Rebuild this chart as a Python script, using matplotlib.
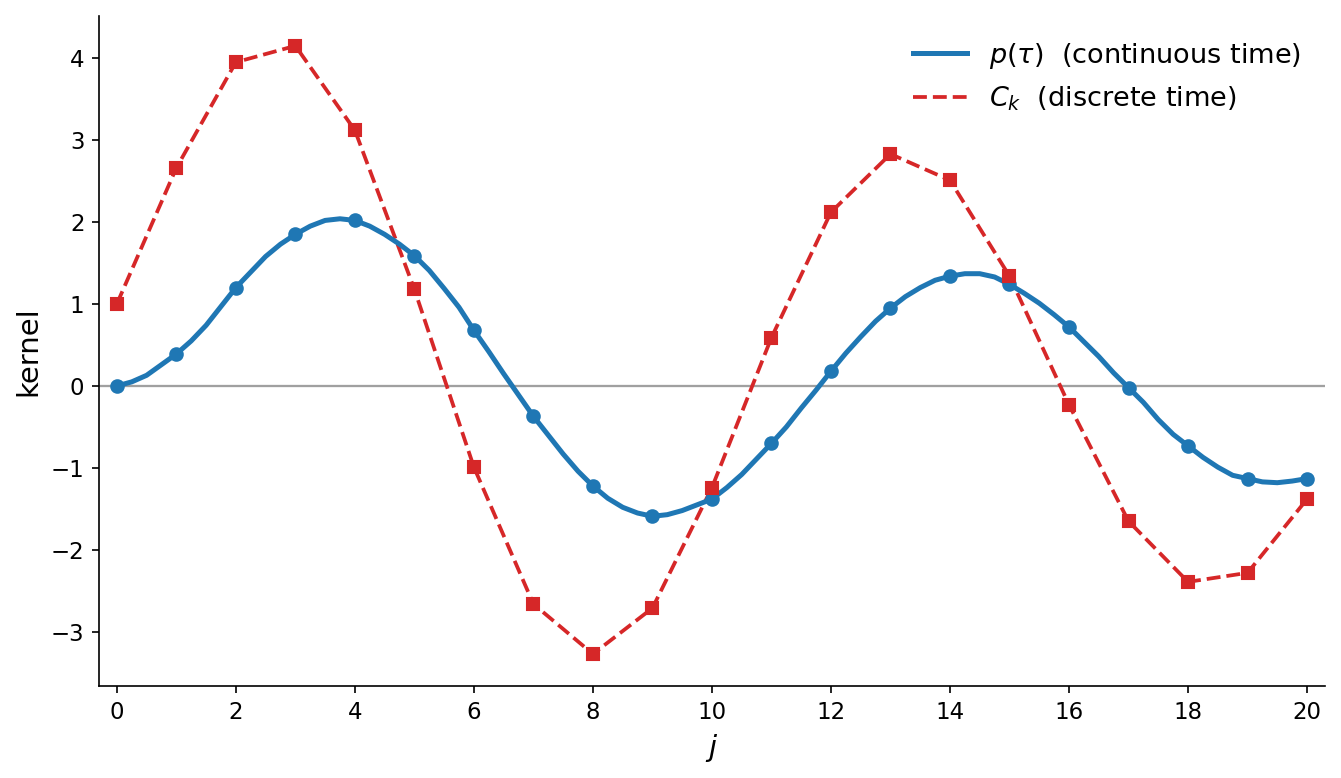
import matplotlib
matplotlib.use("Agg")
import matplotlib.pyplot as plt
import numpy as np

# sampled kernel values at integer lags j
j = np.arange(21)
p_samples = [0.00, 0.39, 1.20, 1.85, 2.02, 1.59, 0.68, -0.37, -1.22, -1.59, -1.38,
             -0.70, 0.18, 0.95, 1.34, 1.24, 0.72, -0.02, -0.73, -1.13, -1.13]
c_k = [1.00, 2.66, 3.95, 4.15, 3.12, 1.18, -0.99, -2.66, -3.27, -2.71, -1.24,
       0.59, 2.12, 2.83, 2.51, 1.34, -0.23, -1.65, -2.39, -2.28, -1.38]

tau = np.arange(0, 20.01, 0.25)
p_tau = [0.00, 0.05, 0.13, 0.26, 0.39, 0.55, 0.74, 0.97,
         1.20, 1.39, 1.58, 1.73, 1.85, 1.95, 2.02, 2.04,
         2.02, 1.95, 1.85, 1.73, 1.59, 1.41, 1.19, 0.96,
         0.68, 0.42, 0.15, -0.11, -0.37, -0.60, -0.83, -1.04,
         -1.22, -1.37, -1.48, -1.55, -1.59, -1.57, -1.52, -1.45,
         -1.38, -1.24, -1.08, -0.89, -0.70, -0.50, -0.27, -0.05,
         0.18, 0.40, 0.60, 0.79, 0.95, 1.09, 1.20, 1.29,
         1.34, 1.37, 1.37, 1.33, 1.24, 1.13, 1.01, 0.87,
         0.72, 0.54, 0.36, 0.16, -0.02, -0.20, -0.41, -0.59,
         -0.73, -0.87, -0.99, -1.09, -1.13, -1.17, -1.18, -1.16,
         -1.13]

BLUE = "#1f77b4"
RED = "#d62728"

fig = plt.figure(figsize=(1341 / 150, 778 / 150), dpi=150)
ax = fig.add_axes([0.0738, 0.1183, 0.9142, 0.8607])

ax.axhline(0, color="#a0a0a0", lw=1.1, zorder=1)
ax.plot(tau, p_tau, color=BLUE, lw=2.4, label=r"$p(\tau)$  (continuous time)", zorder=3)
ax.plot(j, p_samples, "o", color=BLUE, ms=6, zorder=4)
ax.plot(j, c_k, "--", color=RED, lw=1.8, label=r"$C_k$  (discrete time)", zorder=2)
ax.plot(j, c_k, "s", color=RED, ms=5.5, zorder=4)

ax.set_xlim(-0.3, 20.3)
ax.set_ylim(-3.66, 4.51)
ax.set_xticks(range(0, 21, 2))
ax.set_yticks(range(-3, 5))
ax.tick_params(labelsize=11)
ax.set_xlabel(r"$j$", fontsize=14)
ax.set_ylabel("kernel", fontsize=14)
ax.spines["top"].set_visible(False)
ax.spines["right"].set_visible(False)
ax.legend(loc="upper right", frameon=False, fontsize=13)

fig.savefig("out.png", dpi=150)
